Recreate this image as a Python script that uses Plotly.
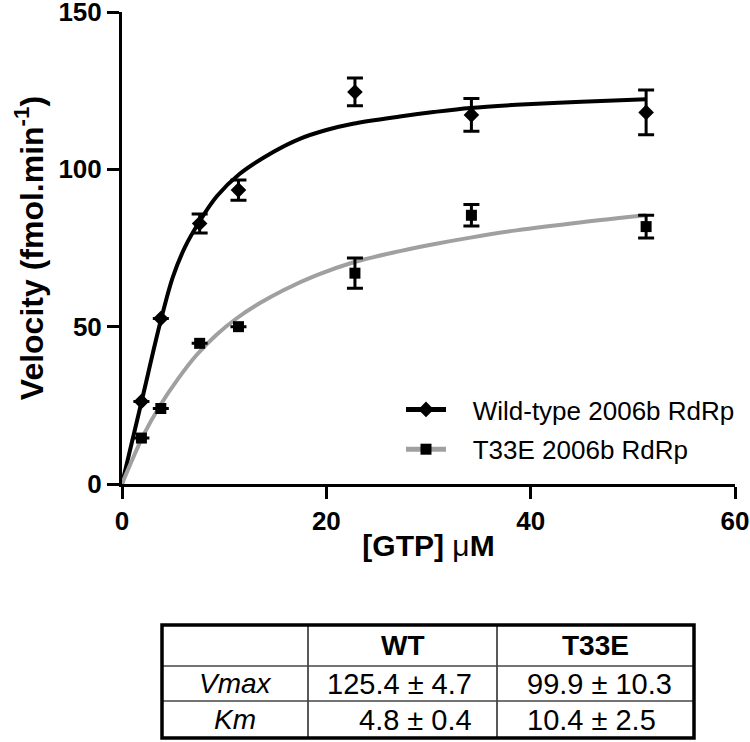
import plotly.graph_objects as go

# ---------------- data ----------------
gtp_um = [1.9, 3.8, 7.6, 11.4, 22.8, 34.2, 51.3]
wt_velocity = [26.2, 52.6, 82.8, 93.4, 124.6, 117.3, 118.1]
wt_error = [None, None, 3.0, 3.2, 4.4, 5.2, 7.1]
t33e_velocity = [14.6, 24.0, 44.7, 50.0, 67.0, 85.4, 81.8]
t33e_error = [None, None, None, None, 4.8, 3.4, 3.6]

# fitted curves
wt_fit_x = [0, 1.9, 3.8, 5.0, 6.2, 7.6, 9.3, 11.5, 14.8, 17.4, 20.0, 22.6, 27.2, 30.5, 34.1, 38.6, 45.0, 51.3]
wt_fit_y = [0, 26.0, 52.0, 66.0, 75.5, 83.5, 91.5, 98.5, 105.5, 109.7, 112.5, 114.5, 116.8, 118.2, 119.5, 120.5, 121.5, 122.3]
t33e_fit_x = [0, 2.1, 3.7, 5.5, 7.3, 9.2, 11.2, 13.5, 15.8, 19.0, 22.6, 27.2, 30.5, 34.1, 38.6, 45.0, 51.3]
t33e_fit_y = [0, 15.5, 24.8, 33.5, 41.0, 47.3, 52.6, 57.5, 61.6, 66.3, 70.4, 74.0, 76.2, 78.3, 80.6, 83.2, 85.4]

series_names = ["Wild-type 2006b RdRp", "T33E 2006b RdRp"]
x_ticks = [0, 20, 40, 60]
y_ticks = [0, 50, 100, 150]

table_header = ["", "WT", "T33E"]
table_rows = ["Vmax", "Km"]
table_wt = ["125.4 \u00b1 4.7", "4.8 \u00b1 0.4"]
table_t33e = ["99.9 \u00b1 10.3", "10.4 \u00b1 2.5"]

# ---------------- layout helpers (screen pixel -> paper) ----------------
W, H = 750, 742
OFF = 0                      # page body margin (set to 0 by post_script)
SX0, SX1 = 122, 735          # plot area on screen
SY0, SY1 = 12, 484
L, T = SX0 - OFF, SY0 - OFF
R = W - L - (SX1 - SX0)
B = H - T - (SY1 - SY0)


def px(x):
    return (x - SX0) / (SX1 - SX0)


def py(y):
    return (SY1 - y) / (SY1 - SY0)


FONT = "Arial, Liberation Sans, sans-serif"
BLACK = "#000000"
GREY = "#a0a0a0"

fig = go.Figure()

# fitted curves
fig.add_trace(go.Scatter(x=wt_fit_x, y=wt_fit_y, mode="lines", line=dict(color=BLACK, width=4, shape="spline"),
                         showlegend=False, cliponaxis=False, hoverinfo="skip"))
fig.add_trace(go.Scatter(x=t33e_fit_x, y=t33e_fit_y, mode="lines", line=dict(color=GREY, width=4, shape="spline"),
                         showlegend=False, cliponaxis=False, hoverinfo="skip"))

# data points with error bars
fig.add_trace(go.Scatter(x=gtp_um, y=wt_velocity, mode="markers",
                         marker=dict(symbol="diamond", size=12, color=BLACK),
                         error_y=dict(type="data", array=wt_error, color=BLACK, thickness=3, width=8),
                         showlegend=False, cliponaxis=False))
fig.add_trace(go.Scatter(x=gtp_um, y=t33e_velocity, mode="markers",
                         marker=dict(symbol="square", size=11, color=BLACK),
                         error_y=dict(type="data", array=t33e_error, color=BLACK, thickness=3, width=8),
                         showlegend=False, cliponaxis=False))

# legend entries
NB = "\u00a0\u00a0\u00a0"
fig.add_trace(go.Scatter(x=[None], y=[None], mode="lines+markers", name=NB + series_names[0], legendgroup="a",
                         line=dict(color=BLACK, width=5), marker=dict(symbol="diamond", size=12, color=BLACK)))
fig.add_trace(go.Scatter(x=[None], y=[None], mode="lines+markers", name=NB + series_names[1], legendgroup="b",
                         line=dict(color=GREY, width=5), marker=dict(symbol="square", size=11, color=BLACK)))

axis_common = dict(showline=True, linecolor=BLACK, linewidth=3, ticks="outside", ticklen=12, tickwidth=3,
                   tickcolor=BLACK, showgrid=False, zeroline=False, automargin=False,
                   ticklabeloverflow="allow",
                   tickfont=dict(family=FONT, size=26, color=BLACK, weight="bold"))

fig.update_layout(
    width=W, height=H,
    margin=dict(l=L, r=R, t=T, b=B, autoexpand=False),
    paper_bgcolor="white", plot_bgcolor="white",
    font=dict(family=FONT, color=BLACK),
    xaxis=dict(range=[0, 60], tickvals=x_ticks, **axis_common,
               title=dict(text="[GTP] <span style='font-weight:normal'>\u03bc</span>M",
                          font=dict(family=FONT, size=30, color=BLACK, weight="bold"), standoff=0)),
    yaxis=dict(range=[0, 150], tickvals=y_ticks, **axis_common,
               title=dict(text="Velocity (fmol.min<sup>-1</sup>)",
                          font=dict(family=FONT, size=32, color=BLACK, weight="bold"), standoff=6)),
    legend=dict(x=px(401), y=py(386), xanchor="left", yanchor="top", bgcolor="rgba(0,0,0,0)",
                font=dict(family=FONT, size=26, color=BLACK), tracegroupgap=3, itemwidth=40),
    showlegend=True,
)

# ---------------- table (screen pixels) ----------------
tx = [162, 308, 497, 694]
ty = [625, 666, 701, 738]
shapes = []
for x in tx[1:-1]:
    shapes.append(dict(type="line", xref="paper", yref="paper", x0=px(x), x1=px(x), y0=py(ty[0]), y1=py(ty[-1]),
                       line=dict(color="#222222", width=1.5)))
for y in ty[1:-1]:
    shapes.append(dict(type="line", xref="paper", yref="paper", x0=px(tx[0]), x1=px(tx[-1]), y0=py(y), y1=py(y),
                       line=dict(color="#444444", width=1.5)))
shapes.append(dict(type="rect", xref="paper", yref="paper", x0=px(tx[0]), x1=px(tx[-1]), y0=py(ty[0]), y1=py(ty[-1]),
                   line=dict(color=BLACK, width=3.5), fillcolor="rgba(0,0,0,0)"))
fig.update_layout(shapes=shapes)

annotations = []
col_centers = [(tx[i] + tx[i + 1]) / 2 for i in range(3)]
row_centers = [(ty[i] + ty[i + 1]) / 2 for i in range(3)]
ann_common = dict(xref="paper", yref="paper", showarrow=False, yanchor="middle")
for i, h in enumerate(table_header):
    if h:
        annotations.append(dict(text=f"<b>{h}</b>", x=px(col_centers[i]), y=py(row_centers[0]), xanchor="center",
                                font=dict(family=FONT, size=28, color=BLACK), **ann_common))
for r, lab in enumerate(table_rows):
    yc = py(row_centers[r + 1])
    annotations.append(dict(text=f"<i>{lab}</i>", x=px(col_centers[0]), y=yc, xanchor="center",
                            font=dict(family=FONT, size=28, color=BLACK), **ann_common))
    annotations.append(dict(text=table_wt[r], x=px(474), y=yc, xanchor="right",
                            font=dict(family=FONT, size=29, color=BLACK), **ann_common))
    annotations.append(dict(text=table_t33e[r], x=px(525), y=yc, xanchor="left",
                            font=dict(family=FONT, size=29, color=BLACK), **ann_common))
fig.update_layout(annotations=annotations)

fig.write_html("out.html", config={"displayModeBar": False},
               post_script="document.body.style.margin='0px';")
